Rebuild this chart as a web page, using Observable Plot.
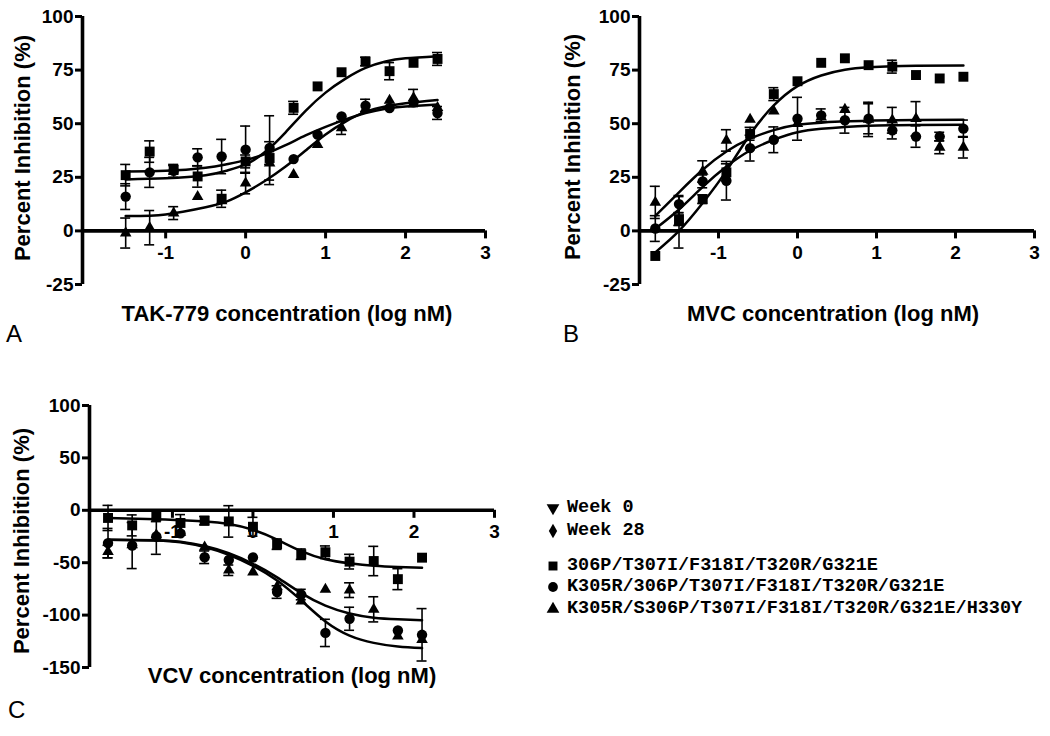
<!DOCTYPE html>
<html><head><meta charset="utf-8">
<script src="https://cdn.jsdelivr.net/npm/d3@7"></script>
<script src="https://cdn.jsdelivr.net/npm/@observablehq/plot@0.6"></script>
<style>
body{margin:0;background:#fff;}
#root{position:relative;width:1050px;height:736px;overflow:hidden;background:#fff;font-family:Arial,"Liberation Sans",Helvetica,sans-serif;color:#000;}
.panel{position:absolute;}
.panel svg{overflow:visible;background:transparent;}
.title{position:absolute;font-weight:bold;font-size:22px;line-height:22px;white-space:nowrap;transform:translateX(-50%);}
.ytitle{position:absolute;font-weight:bold;font-size:22px;line-height:22px;white-space:nowrap;transform:translate(-50%,-50%) rotate(-90deg);}
.letter{position:absolute;font-size:24px;line-height:24px;}
.lrow{position:absolute;font-family:"Courier New","Liberation Mono",monospace;font-weight:bold;font-size:18.5px;line-height:20px;white-space:pre;}
.lsym{position:absolute;}
</style></head>
<body><div id="root"></div>
<script>
// ---------- Panel A: TAK-779 ----------
const xA = [-1.5,-1.2,-0.9,-0.6,-0.3,0,0.3,0.6,0.9,1.2,1.5,1.8,2.1,2.4];
const aSquare = [26,37,28.5,25.4,15,32.4,34,57.4,67.4,74,79,74.5,78.4,80.2];
const aSquareErr = [5,5,2,5,4,3,3,3,0,0,2,4,0,3];
const aCircle = [16,27.3,28,34.3,34.7,37.9,38.7,33.5,44.9,53.4,58.4,57.3,60,55];
const aCircleErr = [6,7,3,4,8,11,15,0,0,0,3,0,0,3];
const aTriangle = [-1,1.5,8.3,16,14,22.3,31.6,26.2,40.2,48,57,60.9,62,57.5];
const aTriangleErr = [7,8,3,0,0,5,10,0,0,3,0,0,4,0];
const aCurveX = [-1.5,-1,-0.5,-0.25,0,0.25,0.5,0.75,1,1.25,1.5,1.75,2,2.4];
const aCurveSquare = [24,24.5,26,28,31,37,46,56,64.5,71,76,79,80.5,81.5];
const aCurveCircle = [27.7,28,29.5,31,33,36,40,44.5,48.5,52,55,57,58,59];
const aCurveTriangle = [7,7.7,11,13.5,18,23.5,30,37.5,45,51,55.5,58,59.5,61];

// ---------- Panel B: MVC ----------
const xB = [-1.8,-1.5,-1.2,-0.9,-0.6,-0.3,0,0.3,0.6,0.9,1.2,1.5,1.8,2.1];
const bSquare = [-11.7,5.5,14.8,27.3,45.3,63.8,69.8,78.4,80.5,77.3,76.6,72.7,71.1,71.9];
const bSquareErr = [0,3,2,4,3,3,0,0,0,0,3,0,0,0];
const bCircle = [1.1,12.5,23.1,23.4,38.6,42.5,52.3,53.9,51.6,52.3,46.9,44,44,47.7];
const bCircleErr = [6,4,3,9,6,6,10,3,6,7,4,5,2,4];
const bTriangle = [13.3,4,27.7,42.2,52,55.8,50,53,56.6,52,51.6,52.3,39,39];
const bTriangleErr = [7.5,12,5,5,0,0,0,0,0,8,6,8,3,5];
const bCurveX = [-1.8,-1.5,-1.2,-0.9,-0.6,-0.3,0,0.3,0.6,0.9,1.2,1.5,2.1];
const bCurveSquare = [-10,0,13,28,45,58.5,67.5,72.5,75.2,76.3,76.8,77,77.2];
const bCurveCircle = [1,10,20.5,30,37.5,42.5,46,47.6,48.5,49.1,49.3,49.4,49.5];
const bCurveTriangle = [7,18,28.5,37,43,47,49.5,50.5,51.1,51.4,51.6,51.7,51.8];

// ---------- Panel C: VCV ----------
const xC = [-1.8,-1.5,-1.2,-0.9,-0.6,-0.3,0,0.3,0.6,0.9,1.2,1.5,1.8,2.1];
const cSquare = [-7.3,-14.4,-5.8,-12.1,-9.9,-10.6,-15.7,-32.3,-41.9,-40,-49,-48.4,-65.7,-45.2];
const cSquareErr = [12,10,5,8,4,15,9,5,5,6,7,14,10,0];
const cCircle = [-31.3,-33.6,-25,-22,-44.8,-47.4,-45,-78,-80.4,-117,-103.5,null,-114.7,-118.8];
const cCircleErr = [14,22,17,0,6,0,0,6,5,13,11,0,0,25];
const cTriangle = [-39.4,-33,-23.4,-21,-35.2,-57.2,-59,-73,-86.8,-75.6,-76.2,-94.5,-120.2,-123.4];
const cTriangleErr = [6,0,0,0,0,5,0,0,0,0,7,12,0,0];
const cCurveX = [-1.8,-1.2,-0.9,-0.6,-0.3,0,0.3,0.6,0.9,1.2,1.5,1.8,2.1];
const cCurveSquare = [-7.3,-8.5,-9.5,-10.6,-13,-18.6,-28,-39,-46.7,-50.6,-53,-54.2,-54.8];
const cCurveCircle = [-28,-28.7,-30.5,-35,-42.5,-53,-67,-86,-106,-119.5,-126.5,-130,-131.5];
const cCurveTriangle = [-28,-28.5,-30,-34,-41,-51,-64,-79,-91,-98.5,-102.5,-104,-104.8];

// ---------- Axes / text ----------
const tickABy = [-25,0,25,50,75,100];
const tickCy = [-150,-100,-50,0,50,100];
const tickX = [-1,0,1,2,3];
const legendLabels = ["Week 0","Week 28","306P/T307I/F318I/T320R/G321E","K305R/306P/T307I/F318I/T320R/G321E","K305R/S306P/T307I/F318I/T320R/G321E/H330Y"];

const rows = (xs, ys, es) => xs.map((x,i)=>({x, y: ys[i], e: es ? es[i] : 0})).filter(d=>d.y!=null);

function panel(cfg){
  const {xDomain, xRange, yDomain, yRange, yTicks, series, curves} = cfg;
  const x0 = xDomain[0];
  const font = {fontFamily:"Arial, 'Liberation Sans', sans-serif", fontWeight:"bold", fontSize:19, fill:"black"};
  const marks = [
    Plot.ruleY(yTicks, {y:d=>d, x1:x0, x2:x0, insetLeft:-7, strokeWidth:3, stroke:"black"}),
    Plot.text(yTicks, {y:d=>d, x:x0, text:d=>String(d), dx:-9, textAnchor:"end", ...font}),
    Plot.ruleX(tickX, {x:d=>d, y1:0, y2:0, insetBottom:-8, strokeWidth:3, stroke:"black"}),
    Plot.text(tickX, {x:d=>d, y:0, text:d=>String(d), dy:22, textAnchor:"middle", ...font}),
    Plot.ruleX([x0], {y1:yDomain[0], y2:yDomain[1], strokeWidth:3.6, stroke:"black"}),
    Plot.ruleY([0], {x1:x0, x2:xDomain[1], strokeWidth:3.6, stroke:"black"})
  ];
  for (const c of curves) {
    marks.push(Plot.line(c, {x:"x", y:"y", curve:"natural", stroke:"black", strokeWidth:2.5}));
  }
  for (const s of series) {
    const eb = s.data.filter(d=>d.e>0);
    marks.push(Plot.ruleX(eb, {x:"x", y1:d=>d.y-d.e, y2:d=>d.y+d.e, stroke:"black", strokeWidth:1.6}));
    marks.push(Plot.ruleY(eb, {y:d=>d.y+d.e, x1:"x", x2:"x", insetLeft:-5, insetRight:-5, stroke:"black", strokeWidth:1.6}));
    marks.push(Plot.ruleY(eb, {y:d=>d.y-d.e, x1:"x", x2:"x", insetLeft:-5, insetRight:-5, stroke:"black", strokeWidth:1.6}));
  }
  for (const s of series) {
    marks.push(Plot.dot(s.data, {x:"x", y:"y", symbol:s.symbol, r:s.r, fill:"black", stroke:"none"}));
  }
  const svg = Plot.plot({
    width: cfg.width, height: cfg.height,
    marginTop:0, marginRight:0, marginBottom:0, marginLeft:0,
    x:{type:"linear", domain:xDomain, range:xRange, axis:null},
    y:{type:"linear", domain:yDomain, range:yRange, axis:null},
    style:{background:"transparent", overflow:"visible"},
    marks
  });
  const div = document.createElement("div");
  div.className = "panel";
  div.style.left = cfg.left + "px";
  div.style.top = cfg.top + "px";
  div.appendChild(svg);
  return div;
}

const root = document.getElementById("root");
const mk = (xs, ys) => xs.map((x,i)=>({x, y: ys[i]}));

root.appendChild(panel({
  left:0, top:0, width:525, height:300,
  xDomain:[-2.04,3], xRange:[82,485], yDomain:[-25,100], yRange:[284,16], yTicks:tickABy,
  curves:[mk(aCurveX,aCurveSquare), mk(aCurveX,aCurveCircle), mk(aCurveX,aCurveTriangle)],
  series:[
    {data:rows(xA,aSquare,aSquareErr), symbol:"square", r:5.6},
    {data:rows(xA,aCircle,aCircleErr), symbol:"circle", r:5.2},
    {data:rows(xA,aTriangle,aTriangleErr), symbol:"triangle", r:4.3}
  ]
}));
root.appendChild(panel({
  left:525, top:0, width:525, height:300,
  xDomain:[-2,3], xRange:[114,509], yDomain:[-25,100], yRange:[284,16], yTicks:tickABy,
  curves:[mk(bCurveX,bCurveSquare), mk(bCurveX,bCurveCircle), mk(bCurveX,bCurveTriangle)],
  series:[
    {data:rows(xB,bSquare,bSquareErr), symbol:"square", r:5.6},
    {data:rows(xB,bCircle,bCircleErr), symbol:"circle", r:5.2},
    {data:rows(xB,bTriangle,bTriangleErr), symbol:"triangle", r:4.3}
  ]
}));
root.appendChild(panel({
  left:0, top:380, width:525, height:300,
  xDomain:[-2.03,3], xRange:[89,494], yDomain:[-150,100], yRange:[287,25], yTicks:tickCy,
  curves:[mk(cCurveX,cCurveSquare), mk(cCurveX,cCurveCircle), mk(cCurveX,cCurveTriangle)],
  series:[
    {data:rows(xC,cSquare,cSquareErr), symbol:"square", r:5.6},
    {data:rows(xC,cCircle,cCircleErr), symbol:"circle", r:5.2},
    {data:rows(xC,cTriangle,cTriangleErr), symbol:"triangle", r:4.3}
  ]
}));

// titles
function addDiv(cls, text, left, top){
  const d = document.createElement("div");
  d.className = cls; d.textContent = text;
  d.style.left = left + "px"; d.style.top = top + "px";
  root.appendChild(d); return d;
}
addDiv("title", "TAK-779 concentration (log nM)", 287, 303);
addDiv("title", "MVC concentration (log nM)", 833, 303);
addDiv("title", "VCV concentration (log nM)", 292, 665);
addDiv("ytitle", "Percent Inhibition (%)", 23, 148);
addDiv("ytitle", "Percent Inhibition (%)", 573, 147);
addDiv("ytitle", "Percent Inhibition (%)", 22, 541);
addDiv("letter", "A", 6, 322);
addDiv("letter", "B", 563, 322);
addDiv("letter", "C", 8, 698);

// legend
const legendSymbols = [
  {type:d3.symbolTriangle, rot:180, size:70},
  {type:d3.symbolDiamond, rot:0, size:60},
  {type:d3.symbolSquare, rot:0, size:80},
  {type:d3.symbolCircle, rot:0, size:75},
  {type:d3.symbolTriangle, rot:0, size:70}
];
const legendBaselines = [513, 535.5, 570.5, 592, 614];
legendLabels.forEach((lab, i) => {
  addDiv("lrow", lab, 567, legendBaselines[i] - 15);
  const s = d3.create("svg").attr("width",16).attr("height",16).attr("class","lsym")
    .style("left","545px").style("top",(legendBaselines[i]-13)+"px");
  s.append("path").attr("transform",`translate(8,8) rotate(${legendSymbols[i].rot})`)
    .attr("d", d3.symbol(legendSymbols[i].type, legendSymbols[i].size)()).attr("fill","black");
  root.appendChild(s.node());
});
</script></body></html>
